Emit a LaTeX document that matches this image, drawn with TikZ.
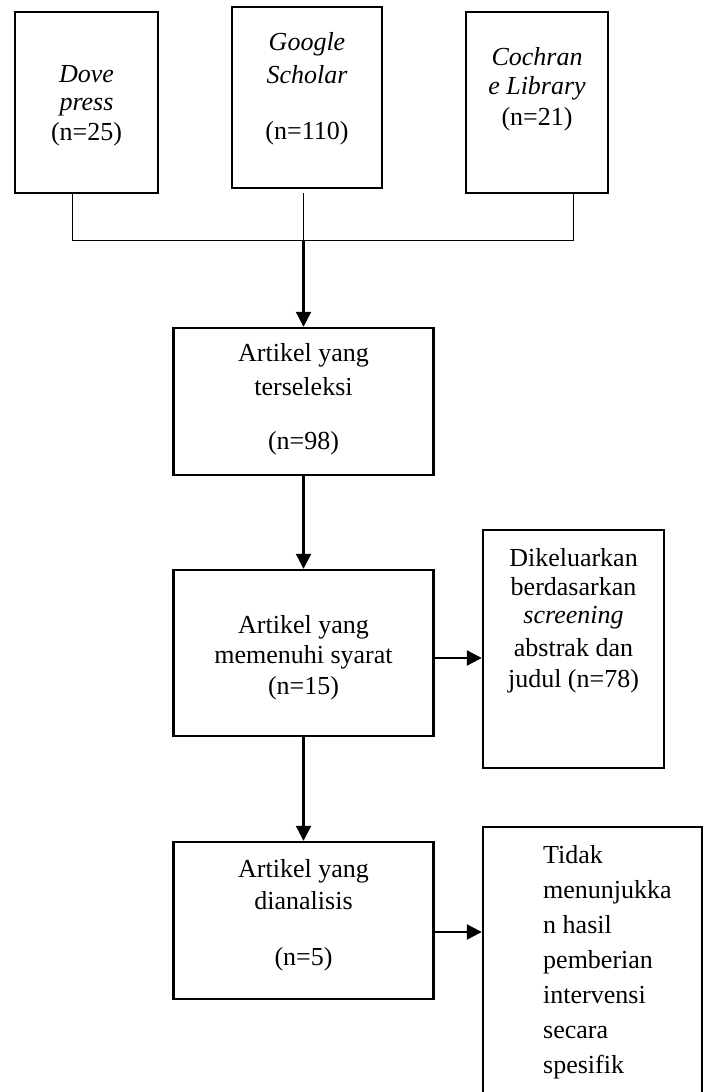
\documentclass[tikz,border=0pt]{standalone}
\usepackage{fontspec}
\setmainfont{Liberation Serif}
\usetikzlibrary{arrows.meta}
\tikzset{
  boxnode/.style={draw, line width=2.4pt, inner sep=0pt},
  txt/.style={inner sep=0pt, anchor=north, align=center, font=\fontsize{26}{30}\selectfont},
  txtl/.style={inner sep=0pt, anchor=north west, align=left, font=\fontsize{26}{35}\selectfont},
  thin/.style={line width=1pt},
  arr/.style={line width=2.2pt, -{Triangle[length=15pt,width=15pt]}}
}
\begin{document}
\begin{tikzpicture}[x=1pt,y=-1pt]
\path[use as bounding box, clip] (0,0) rectangle (710,1092);
\fill[white] (0,0) rectangle (710,1092);
% boxes
\node[boxnode, minimum width=143pt, minimum height=181pt] (dove) at (86.5,102.5) {};
\node[boxnode, minimum width=150pt, minimum height=181pt] (google) at (307,97.5) {};
\node[boxnode, minimum width=142pt, minimum height=181pt] (coch) at (537,102.5) {};
\node[boxnode, minimum width=260pt, minimum height=147pt] (s1) at (303.5,401.5) {};
\node[boxnode, minimum width=260pt, minimum height=166pt] (s2) at (303.5,653) {};
\node[boxnode, minimum width=260pt, minimum height=157pt] (s3) at (303.5,920.5) {};
\node[boxnode, minimum width=181pt, minimum height=238pt] (x1) at (573.5,649) {};
\node[boxnode, minimum width=219pt, minimum height=303pt] (x2) at (592.5,978.5) {};
% texts
\node[txt] (tdove) at (86.5,64.8) {\textit{Dove}\\[-2pt]\textit{press}\\(n=25)};
\node[txt] (tgoogle) at (307,32.2) {\textit{Google}\\[3pt]\textit{Scholar}\\[26pt](n=110)};
\node[txt] (tcoch) at (537,47.2) {\textit{Cochran}\\[-1pt]\textit{e Library}\\[1pt](n=21)};
\node[txt] (ts1) at (303.5,343.2) {Artikel yang\\[4.5pt]terseleksi\\[24pt](n=98)};
\node[txt] (ts2) at (303.5,615.2) {Artikel yang\\memenuhi syarat\\[1pt](n=15)};
\node[txt] (tx1) at (573.5,548.2) {Dikeluarkan\\[-1pt]berdasarkan\\[-2pt]\textit{screening}\\[3pt]abstrak dan\\[1pt]judul (n=78)};
\node[txt] (ts3) at (303.5,859.2) {Artikel yang\\[2.5pt]dianalisis\\[26pt](n=5)};
\node[txtl] (tx2) at (543,845) {Tidak\\menunjukka\\n hasil\\pemberian\\intervensi\\secara\\spesifik};
% connectors
\coordinate (jl) at (72,240);
\coordinate (jm) at (303.5,240);
\coordinate (jr) at (573,240);
\draw[thin] (dove.south -| jl) -- (jl) -- (jr) -- (coch.south -| jr);
\draw[thin] ([yshift=-4pt]google.south -| jm) -- (jm);
\draw[arr] (jm) -- (s1.north);
\draw[arr] (s1.south) -- (s2.north);
\draw[arr] (s2.south) -- (s3.north);
\draw[arr] ([yshift=-5pt]s2.east) -- ([yshift=-5pt]s2.east -| x1.west);
\draw[arr] ([yshift=-11.5pt]s3.east) -- ([yshift=-11.5pt]s3.east -| x2.west);
\end{tikzpicture}
\end{document}
